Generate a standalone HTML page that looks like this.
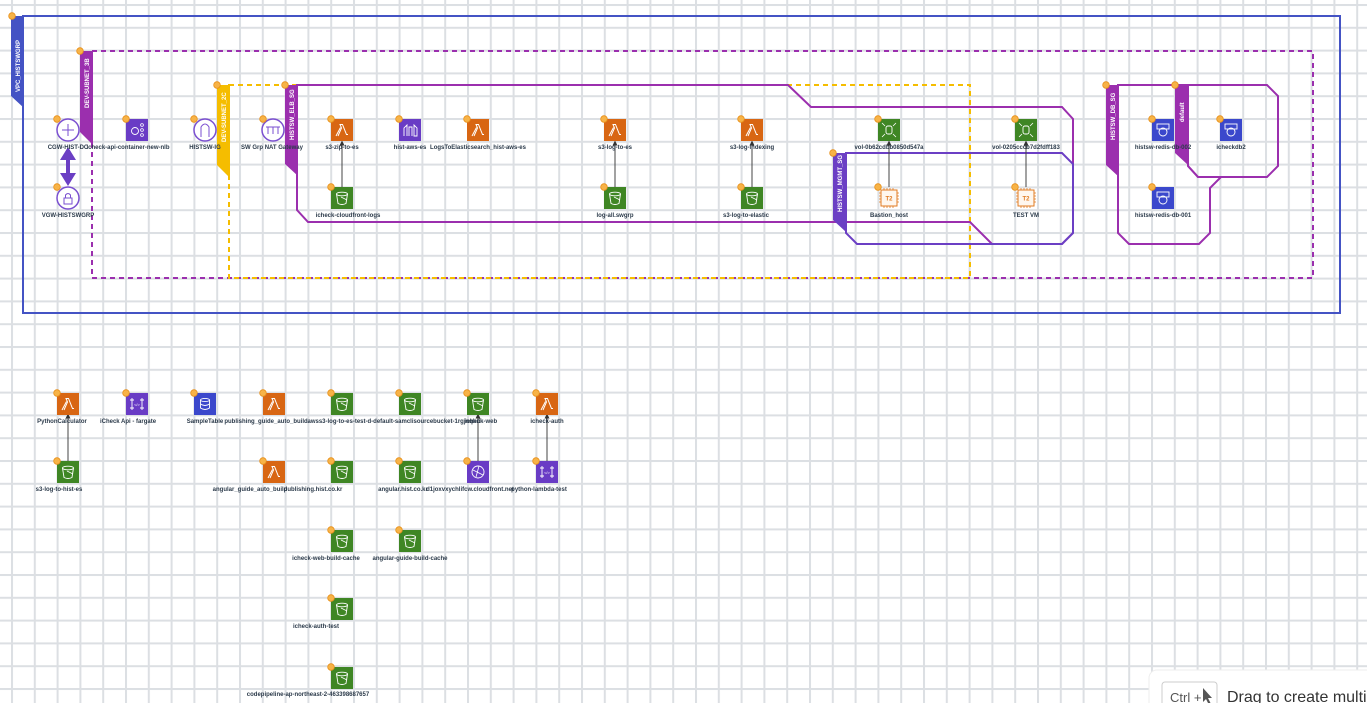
<!DOCTYPE html>
<html><head><meta charset="utf-8"><style>
html,body{margin:0;padding:0;width:1367px;height:703px;overflow:hidden;background:#fff;font-family:"Liberation Sans",sans-serif}
svg{display:block}
.l{font:bold 6px "Liberation Sans",sans-serif;fill:#2b3a4a;text-anchor:middle}
.t{font:bold 6px "Liberation Sans",sans-serif;fill:#fff}
</style></head><body>
<svg width="1367" height="703" viewBox="0 0 1367 703" xmlns="http://www.w3.org/2000/svg">
<defs>
<pattern id="g" x="11" y="4" width="22.8" height="22.8" patternUnits="userSpaceOnUse">
<rect x="0" y="0" width="2" height="22.8" fill="#dcdfe3"/><rect x="0" y="0" width="22.8" height="2" fill="#dcdfe3"/>
</pattern>
<symbol id="lam" viewBox="0 0 22 22"><rect width="22" height="22" fill="#d86613"/><path d="M7 17 L10.5 9 L9 5.5 H11.5 L15.5 15.5 H17" fill="none" stroke="#fff" stroke-width="1"/><path d="M5 17 L9.5 8.5" stroke="#fff" stroke-width="1"/></symbol>
<symbol id="bkt" viewBox="0 0 22 22"><rect width="22" height="22" fill="#3f8624"/><ellipse cx="11" cy="7" rx="5.5" ry="1.8" fill="none" stroke="#fff" stroke-width="0.9"/><path d="M5.5 7 L7 16.5 Q11 18.5 15 16.5 L16.5 7" fill="none" stroke="#fff" stroke-width="0.9"/><path d="M10 10 L16 13" stroke="#fff" stroke-width="0.8"/></symbol>
<symbol id="vol" viewBox="0 0 22 22"><rect width="22" height="22" fill="#3f8624"/><rect x="8" y="7" width="6" height="8" rx="2" fill="none" stroke="#fff" stroke-width="0.9"/><path d="M4 4 L7 7 M18 4 L15 7 M4 18 L7 15 M18 18 L15 15" stroke="#fff" stroke-width="0.8"/></symbol>
<symbol id="db" viewBox="0 0 22 22"><rect width="22" height="22" fill="#3b48cc"/><rect x="5" y="5" width="12" height="5" fill="none" stroke="#fff" stroke-width="0.9"/><ellipse cx="11" cy="13" rx="4" ry="4" fill="none" stroke="#fff" stroke-width="0.9"/></symbol>
<symbol id="pur" viewBox="0 0 22 22"><rect width="22" height="22" fill="#693cc5"/><circle cx="9" cy="12" r="3.5" fill="none" stroke="#fff" stroke-width="0.9"/><circle cx="16" cy="6" r="1.4" fill="none" stroke="#fff" stroke-width="0.8"/><circle cx="16" cy="11" r="1.4" fill="none" stroke="#fff" stroke-width="0.8"/><circle cx="16" cy="16" r="1.4" fill="none" stroke="#fff" stroke-width="0.8"/></symbol>
<symbol id="api" viewBox="0 0 22 22"><rect width="22" height="22" fill="#693cc5"/><path d="M6 5 V17 M16 5 V17 M4 7 H8 M4 15 H8 M14 7 H18 M14 15 H18" stroke="#fff" stroke-width="0.9"/><text x="11" y="13" font-size="4" fill="#fff" text-anchor="middle">&lt;/&gt;</text></symbol>
<symbol id="es" viewBox="0 0 22 22"><rect width="22" height="22" fill="#693cc5"/><path d="M5 17 V9 L8 6 V17 M10 17 V8 H13 V17 M15 17 V6 L18 9 V17 Z" fill="none" stroke="#fff" stroke-width="0.9"/></symbol>
<symbol id="cf" viewBox="0 0 22 22"><rect width="22" height="22" fill="#693cc5"/><circle cx="11" cy="11" r="6" fill="none" stroke="#fff" stroke-width="0.9"/><path d="M6 9 L16 14 M9 16 L12 5" stroke="#fff" stroke-width="0.8"/></symbol>
<symbol id="tbl" viewBox="0 0 22 22"><rect width="22" height="22" fill="#3b48cc"/><ellipse cx="11" cy="7" rx="4.5" ry="1.6" fill="none" stroke="#fff" stroke-width="0.9"/><path d="M6.5 7 V15 Q11 18 15.5 15 V7 M6.5 11 Q11 14 15.5 11" fill="none" stroke="#fff" stroke-width="0.9"/></symbol>
<symbol id="t2" viewBox="0 0 22 22"><rect x="3" y="3" width="16" height="16" fill="#fff7ee" stroke="#e07b22" stroke-width="1"/><path d="M6 1V3M9 1V3M12 1V3M15 1V3M6 19V21M9 19V21M12 19V21M15 19V21M1 6H3M1 9H3M1 12H3M1 15H3M19 6H21M19 9H21M19 12H21M19 15H21" stroke="#e07b22" stroke-width="0.8"/><text x="11" y="13.5" font-size="6" font-weight="bold" fill="#e07b22" text-anchor="middle" font-family="Liberation Sans">T2</text></symbol>
<symbol id="dot" viewBox="0 0 8 8"><circle cx="4" cy="4" r="3.3" fill="#f7b347" stroke="#e8901a" stroke-width="0.8"/></symbol>
<marker id="ar" markerWidth="5" markerHeight="5" refX="2.5" refY="2.5" orient="auto"><path d="M0 0 L5 2.5 L0 5z" fill="#333"/></marker>
</defs>
<rect width="1367" height="703" fill="#fff"/>
<rect width="1367" height="703" fill="url(#g)"/>

<!-- VPC -->
<rect x="23" y="16" width="1317" height="297" fill="none" stroke="#4453c4" stroke-width="2"/>
<polygon points="11,16 24,16 24,108 11,96" fill="#4453c4"/>
<text class="t" transform="translate(20,92) rotate(-90)">VPC_HISTSWGRP</text>
<!-- DEV-SUBNET_3B -->
<rect x="92" y="51" width="1221" height="227" fill="none" stroke="#9b2fae" stroke-width="2" stroke-dasharray="5,4"/>
<polygon points="80,51 93,51 93,145 80,132" fill="#9b2fae"/>
<text class="t" transform="translate(89,108) rotate(-90)">DEV-SUBNET_3B</text>
<!-- DEV-SUBNET_2C -->
<rect x="229" y="85" width="741" height="193" fill="none" stroke="#f5bd00" stroke-width="2" stroke-dasharray="5,4"/>
<polygon points="217,85 230,85 230,178 217,165" fill="#f5bd00"/>
<text class="t" transform="translate(226,142) rotate(-90)">DEV-SUBNET_2C</text>
<!-- ELB SG -->
<polygon points="297,85 788,85 811,107 1062,107 1073,119 1073,233 1062,244 992,244 970,222 308,222 297,210" fill="none" stroke="#9b2fae" stroke-width="2"/>
<polygon points="285,85 298,85 298,176 285,164" fill="#9b2fae"/>
<text class="t" transform="translate(294,140) rotate(-90)">HISTSW_ELB_SG</text>
<!-- MGMT SG -->
<polygon points="846,153 1062,153 1073,164 1073,233 1062,244 857,244 846,233" fill="none" stroke="#6b3fc4" stroke-width="2"/>
<polygon points="833,153 846,153 846,232 833,220" fill="#6b3fc4"/>
<text class="t" transform="translate(842,212) rotate(-90)">HISTSW_MGMT_SG</text>
<!-- DB SG -->
<polygon points="1118,85 1188,85 1188,166 1198,177 1221,177 1210,188 1210,233 1199,244 1129,244 1118,233" fill="none" stroke="#9b2fae" stroke-width="2"/>
<polygon points="1106,85 1119,85 1119,177 1106,165" fill="#9b2fae"/>
<text class="t" transform="translate(1115,140) rotate(-90)">HISTSW_DB_SG</text>
<!-- default SG -->
<polygon points="1188,85 1267,85 1278,96 1278,166 1267,177 1198,177 1188,166" fill="none" stroke="#9b2fae" stroke-width="2"/>
<polygon points="1175,85 1188,85 1188,165 1175,153" fill="#9b2fae"/>
<text class="t" transform="translate(1184,122) rotate(-90)">default</text>

<!-- edges -->
<g stroke="#444" stroke-width="1" marker-end="url(#ar)">
<line x1="342" y1="187" x2="342" y2="143"/>
<line x1="615" y1="187" x2="615" y2="143"/>
<line x1="752" y1="187" x2="752" y2="143"/>
<line x1="889" y1="187" x2="889" y2="143"/>
<line x1="1026" y1="187" x2="1026" y2="143"/>
<line x1="68" y1="461" x2="68" y2="416"/>
<line x1="478" y1="461" x2="478" y2="416"/>
<line x1="547" y1="461" x2="547" y2="416"/>
</g>
<path d="M68 150 L68 178" stroke="#6b3fc4" stroke-width="4"/>
<polygon points="68,147 60,160 76,160" fill="#6b3fc4"/>
<polygon points="68,186 60,173 76,173" fill="#6b3fc4"/>

<!-- circle icons -->
<g fill="#fff" stroke="#7a4fd0" stroke-width="1.5">
<circle cx="68" cy="130" r="11"/><circle cx="68" cy="198" r="11"/><circle cx="205" cy="130" r="11"/><circle cx="273" cy="130" r="11"/>
</g>
<g stroke="#7a4fd0" stroke-width="1" fill="none">
<path d="M62 130H74M68 124V136"/>
<rect x="64" y="198" width="8" height="6"/><path d="M65.5 198 V195 Q68 192 70.5 195 V198"/>
<path d="M201 137 V127 Q205 121 209 127 V137"/>
<path d="M266 127H280 M268 127V134 M273 127V134 M278 127V134"/>
</g>

<!-- square icons -->
<use href="#pur" x="126" y="119" width="22" height="22"/>
<use href="#lam" x="331" y="119" width="22" height="22"/>
<use href="#es" x="399" y="119" width="22" height="22"/>
<use href="#lam" x="467" y="119" width="22" height="22"/>
<use href="#lam" x="604" y="119" width="22" height="22"/>
<use href="#lam" x="741" y="119" width="22" height="22"/>
<use href="#vol" x="878" y="119" width="22" height="22"/>
<use href="#vol" x="1015" y="119" width="22" height="22"/>
<use href="#db" x="1152" y="119" width="22" height="22"/>
<use href="#db" x="1220" y="119" width="22" height="22"/>
<use href="#bkt" x="331" y="187" width="22" height="22"/>
<use href="#bkt" x="604" y="187" width="22" height="22"/>
<use href="#bkt" x="741" y="187" width="22" height="22"/>
<use href="#t2" x="878" y="187" width="22" height="22"/>
<use href="#t2" x="1015" y="187" width="22" height="22"/>
<use href="#db" x="1152" y="187" width="22" height="22"/>

<use href="#lam" x="57" y="393" width="22" height="22"/>
<use href="#api" x="126" y="393" width="22" height="22"/>
<use href="#tbl" x="194" y="393" width="22" height="22"/>
<use href="#lam" x="263" y="393" width="22" height="22"/>
<use href="#bkt" x="331" y="393" width="22" height="22"/>
<use href="#bkt" x="399" y="393" width="22" height="22"/>
<use href="#bkt" x="467" y="393" width="22" height="22"/>
<use href="#lam" x="536" y="393" width="22" height="22"/>
<use href="#bkt" x="57" y="461" width="22" height="22"/>
<use href="#lam" x="263" y="461" width="22" height="22"/>
<use href="#bkt" x="331" y="461" width="22" height="22"/>
<use href="#bkt" x="399" y="461" width="22" height="22"/>
<use href="#cf" x="467" y="461" width="22" height="22"/>
<use href="#api" x="536" y="461" width="22" height="22"/>
<use href="#bkt" x="331" y="530" width="22" height="22"/>
<use href="#bkt" x="399" y="530" width="22" height="22"/>
<use href="#bkt" x="331" y="598" width="22" height="22"/>
<use href="#bkt" x="331" y="667" width="22" height="22"/>

<!-- orange dots -->
<g>
<use href="#dot" x="8" y="12" width="8" height="8"/><use href="#dot" x="76" y="47" width="8" height="8"/><use href="#dot" x="213" y="81" width="8" height="8"/><use href="#dot" x="281" y="81" width="8" height="8"/>
<use href="#dot" x="829" y="149" width="8" height="8"/><use href="#dot" x="1102" y="81" width="8" height="8"/><use href="#dot" x="1171" y="81" width="8" height="8"/>
<use href="#dot" x="53" y="115" width="8" height="8"/><use href="#dot" x="53" y="183" width="8" height="8"/><use href="#dot" x="122" y="115" width="8" height="8"/><use href="#dot" x="190" y="115" width="8" height="8"/><use href="#dot" x="259" y="115" width="8" height="8"/>
<use href="#dot" x="327" y="115" width="8" height="8"/><use href="#dot" x="395" y="115" width="8" height="8"/><use href="#dot" x="463" y="115" width="8" height="8"/><use href="#dot" x="600" y="115" width="8" height="8"/><use href="#dot" x="737" y="115" width="8" height="8"/><use href="#dot" x="874" y="115" width="8" height="8"/><use href="#dot" x="1011" y="115" width="8" height="8"/><use href="#dot" x="1148" y="115" width="8" height="8"/><use href="#dot" x="1216" y="115" width="8" height="8"/>
<use href="#dot" x="327" y="183" width="8" height="8"/><use href="#dot" x="600" y="183" width="8" height="8"/><use href="#dot" x="737" y="183" width="8" height="8"/><use href="#dot" x="874" y="183" width="8" height="8"/><use href="#dot" x="1011" y="183" width="8" height="8"/><use href="#dot" x="1148" y="183" width="8" height="8"/>
<use href="#dot" x="53" y="389" width="8" height="8"/><use href="#dot" x="122" y="389" width="8" height="8"/><use href="#dot" x="190" y="389" width="8" height="8"/><use href="#dot" x="259" y="389" width="8" height="8"/><use href="#dot" x="327" y="389" width="8" height="8"/><use href="#dot" x="395" y="389" width="8" height="8"/><use href="#dot" x="463" y="389" width="8" height="8"/><use href="#dot" x="532" y="389" width="8" height="8"/>
<use href="#dot" x="53" y="457" width="8" height="8"/><use href="#dot" x="259" y="457" width="8" height="8"/><use href="#dot" x="327" y="457" width="8" height="8"/><use href="#dot" x="395" y="457" width="8" height="8"/><use href="#dot" x="463" y="457" width="8" height="8"/><use href="#dot" x="532" y="457" width="8" height="8"/>
<use href="#dot" x="327" y="526" width="8" height="8"/><use href="#dot" x="395" y="526" width="8" height="8"/><use href="#dot" x="327" y="594" width="8" height="8"/><use href="#dot" x="327" y="663" width="8" height="8"/>
</g>

<!-- labels -->
<g class="l">
<text class="l" x="68" y="149">CGW-HIST-DC</text>
<text class="l" x="128" y="149">icheck-api-container-new-nlb</text>
<text class="l" x="205" y="149">HISTSW-IG</text>
<text class="l" x="272" y="149">SW Grp NAT Gateway</text>
<text class="l" x="342" y="149">s3-zip-to-es</text>
<text class="l" x="410" y="149">hist-aws-es</text>
<text class="l" x="478" y="149">LogsToElasticsearch_hist-aws-es</text>
<text class="l" x="615" y="149">s3-log-to-es</text>
<text class="l" x="752" y="149">s3-log-indexing</text>
<text class="l" x="889" y="149">vol-0b62cdbb0850d547a</text>
<text class="l" x="1026" y="149">vol-0205cccb7d2fdff183</text>
<text class="l" x="1163" y="149">histsw-redis-db-002</text>
<text class="l" x="1231" y="149">icheckdb2</text>
<text class="l" x="68" y="217">VGW-HISTSWGRP</text>
<text class="l" x="348" y="217">icheck-cloudfront-logs</text>
<text class="l" x="615" y="217">log-all.swgrp</text>
<text class="l" x="746" y="217">s3-log-to-elastic</text>
<text class="l" x="889" y="217">Bastion_host</text>
<text class="l" x="1026" y="217">TEST VM</text>
<text class="l" x="1163" y="217">histsw-redis-db-001</text>
<text class="l" x="62" y="423">PythonCalculator</text>
<text class="l" x="128" y="423">iCheck Api - fargate</text>
<text class="l" x="205" y="423">SampleTable</text>
<text class="l" x="266" y="423">publishing_guide_auto_build</text>
<text class="l" x="394" y="423">awss3-log-to-es-test-d-default-samclisourcebucket-1rgjnqhri</text>
<text class="l" x="481" y="423">icheck-web</text>
<text class="l" x="547" y="423">icheck-auth</text>
<text class="l" x="59" y="491">s3-log-to-hist-es</text>
<text class="l" x="250" y="491">angular_guide_auto_build</text>
<text class="l" x="313" y="491">publishing.hist.co.kr</text>
<text class="l" x="403" y="491">angular.hist.co.kr</text>
<text class="l" x="470" y="491">d1joxvxychlifcw.cloudfront.net</text>
<text class="l" x="539" y="491">python-lambda-test</text>
<text class="l" x="326" y="560">icheck-web-build-cache</text>
<text class="l" x="410" y="560">angular-guide-build-cache</text>
<text class="l" x="316" y="628">icheck-auth-test</text>
<text class="l" x="308" y="696">codepipeline-ap-northeast-2-463398687657</text>
</g>

<!-- popup -->
<rect x="1149" y="670" width="240" height="50" rx="8" fill="#fff" stroke="#eee"/>
<rect x="1162" y="682" width="55" height="30" rx="3" fill="#fff" stroke="#ccc"/>
<text x="1170" y="702" font-family="Liberation Sans" font-size="13" fill="#555">Ctrl +</text>
<path d="M1203 688 L1203 702 L1206 699 L1209 705 L1211 704 L1208 698 L1212 698 Z" fill="#555"/>
<text x="1227" y="702" font-family="Liberation Sans" font-size="16" fill="#333">Drag to create multi-s</text>
</svg>
</body></html>
